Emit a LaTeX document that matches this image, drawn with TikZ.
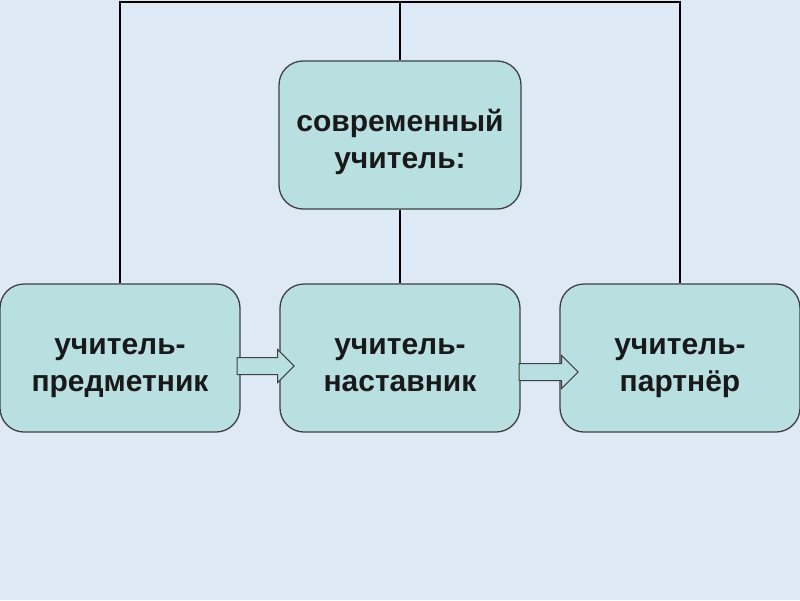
\documentclass[tikz,border=0pt]{standalone}
\usepackage{fontspec}
\setmainfont{Liberation Sans}
\usetikzlibrary{shapes.arrows, positioning, calc}
\definecolor{bgblue}{RGB}{221,233,245}
\definecolor{boxteal}{RGB}{185,224,224}
\definecolor{rimgray}{RGB}{64,64,64}

\begin{document}
\begin{tikzpicture}[x=1pt, y=-1pt,
    role/.style={rectangle, draw=rimgray, line width=1.3pt, fill=boxteal, rounded corners=24pt, minimum width=240pt, minimum height=148pt, align=center, text height=74pt, text depth=8pt, font=\fontsize{30}{37}\selectfont\bfseries, text=black!90},
    link/.style={draw, black, line width=2pt},
    blockarrow/.style={single arrow, draw=rimgray, line width=1pt, fill=boxteal, minimum height=57pt, single arrow head extend=8pt, inner xsep=0pt, inner ysep=8pt, anchor=tail}]

    % Background
    \fill[bgblue] (0,0) rectangle (800,600);
    \useasboundingbox (0,0) rectangle (800,600);

    % Central node and the three roles
    \node[role, minimum width=242pt] (modern) at (400,135) {современный\\учитель:};
    \node[role] (subject) at (120,358) {учитель-\\предметник};
    \node[role] (mentor) at (400,358) {учитель-\\наставник};
    \node[role] (partner) at (680,358) {учитель-\\партнёр};

    % Top bar joining the boxes
    \coordinate (hub) at (400,1.5);
    \draw[link] (subject.north) |- (hub) -| (partner.north);
    \draw[link] (hub) -- (modern.north);
    \draw[link] (modern.south) -- (mentor.north);

    % Block arrows between the roles
    \node[blockarrow] (step1) at ($(subject.east)+(-4,8)$) {};
    \node[blockarrow, minimum height=59pt] (step2) at ($(mentor.east)+(-2,14)$) {};

\end{tikzpicture}
\end{document}
